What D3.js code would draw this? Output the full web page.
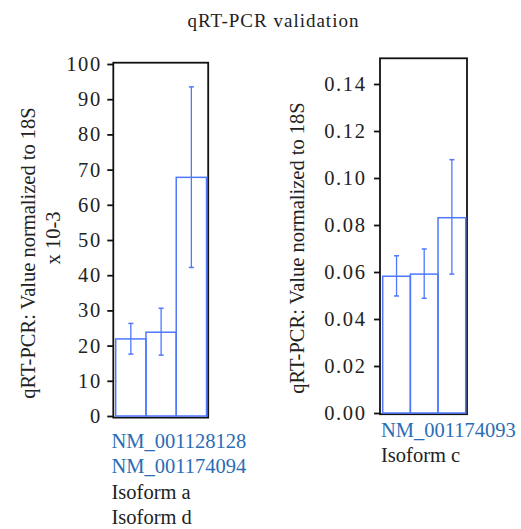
<!DOCTYPE html>
<html>
<head>
<meta charset="utf-8">
<script src="https://cdn.jsdelivr.net/npm/d3@7"></script>
<style>
  html, body { margin: 0; padding: 0; background: #fff; }
  svg { display: block; }
  text { font-family: "Liberation Serif", "Times New Roman", serif; }
</style>
</head>
<body>
<svg id="chart" width="521" height="529"></svg>
<script>
// ---- data ----
const title = "qRT-PCR validation";
const yTitleLine1 = "qRT-PCR: Value normalized to 18S";
const yTitleLine2 = "x 10-3";

const leftBars = ["bar1", "bar2", "bar3"];
const leftValues = [21.9, 23.8, 67.8];
const leftErrLow = [17.6, 17.3, 42.2];
const leftErrHigh = [26.3, 30.6, 93.5];
const leftTicks = [0, 10, 20, 30, 40, 50, 60, 70, 80, 90, 100];
const leftAccessions = ["NM_001128128", "NM_001174094"];
const leftIsoforms = ["Isoform a", "Isoform d"];

const rightBars = ["bar1", "bar2", "bar3"];
const rightValues = [0.0582, 0.0591, 0.0831];
const rightErrLow = [0.0498, 0.0488, 0.0591];
const rightErrHigh = [0.0669, 0.0698, 0.1078];
const rightTicks = [0, 0.02, 0.04, 0.06, 0.08, 0.10, 0.12, 0.14];
const rightAccessions = ["NM_001174093"];
const rightIsoforms = ["Isoform c"];

// ---- styles ----
const barColor = "#4f78ff";
const accColor = "#2a6db5";
const isoColor = "#222";
const fontSize = 20.5;

const svg = d3.select("#chart");

svg.append("text")
  .attr("x", 273.5).attr("y", 27)
  .attr("text-anchor", "middle")
  .attr("font-size", 19).attr("letter-spacing", 1)
  .attr("fill", "#222")
  .text(title);

function panel(opts) {
  const g = svg.append("g");
  const y = d3.scaleLinear().domain([0, opts.yMax]).range([opts.y0, opts.y1]);
  const x = d3.scaleBand().domain(opts.bars).range([opts.x0, opts.x1]).padding(0);

  // frame
  g.append("rect")
    .attr("x", opts.fx0).attr("y", opts.fy0)
    .attr("width", opts.fx1 - opts.fx0).attr("height", opts.fy1 - opts.fy0)
    .attr("fill", "none").attr("stroke", "#111").attr("stroke-width", 1.8);

  // axis
  const axis = d3.axisLeft(y).tickValues(opts.ticks).tickFormat(opts.fmt)
    .tickSize(6).tickPadding(opts.tickPad);
  const ag = g.append("g").attr("transform", `translate(${opts.fx0},0)`).call(axis);
  ag.select(".domain").remove();
  ag.selectAll(".tick line").attr("stroke", "#111").attr("stroke-width", 1.8);
  ag.selectAll(".tick text")
    .attr("font-family", "Liberation Serif, serif")
    .attr("font-size", fontSize).attr("letter-spacing", 1.6)
    .attr("fill", "#222");

  // bars
  g.selectAll(".bar").data(opts.values).enter().append("rect")
    .attr("x", (d, i) => x(opts.bars[i]))
    .attr("y", d => y(d))
    .attr("width", x.bandwidth())
    .attr("height", d => y(0) - y(d))
    .attr("fill", "none").attr("stroke", barColor).attr("stroke-width", 1.5);

  // error bars
  const cap = 2.5;
  opts.values.forEach((v, i) => {
    const cx = x(opts.bars[i]) + x.bandwidth() / 2;
    const lo = y(opts.errLow[i]), hi = y(opts.errHigh[i]);
    g.append("line").attr("x1", cx).attr("x2", cx).attr("y1", lo).attr("y2", hi)
      .attr("stroke", barColor).attr("stroke-width", 1.3);
    [lo, hi].forEach(yy => g.append("line")
      .attr("x1", cx - cap).attr("x2", cx + cap).attr("y1", yy).attr("y2", yy)
      .attr("stroke", barColor).attr("stroke-width", 1.5));
  });

  // y title
  opts.yTitles.forEach(t => {
    g.append("text")
      .attr("transform", `translate(${t.x},${t.cy}) rotate(-90)`)
      .attr("text-anchor", "middle")
      .attr("font-size", fontSize).attr("fill", "#222")
      .text(t.text);
  });

  // category labels
  const lines = opts.accessions.map(t => ({ t, c: accColor }))
    .concat(opts.isoforms.map(t => ({ t, c: isoColor })));
  lines.forEach((l, i) => {
    g.append("text")
      .attr("x", opts.labelX).attr("y", opts.labelY + i * 25.3)
      .attr("font-size", fontSize).attr("fill", l.c)
      .text(l.t);
  });
}

panel({
  bars: leftBars, values: leftValues, errLow: leftErrLow, errHigh: leftErrHigh,
  yMax: 100, y0: 416, y1: 64, x0: 115.7, x1: 206.5,
  fx0: 113.3, fx1: 208.2, fy0: 62.7, fy1: 417.6,
  ticks: leftTicks, fmt: d3.format("d"), tickPad: 5.5,
  yTitles: [
    { text: yTitleLine1, x: 35, cy: 253 },
    { text: yTitleLine2, x: 60, cy: 238 }
  ],
  accessions: leftAccessions, isoforms: leftIsoforms, labelX: 111.5, labelY: 448
});

panel({
  bars: rightBars, values: rightValues, errLow: rightErrLow, errHigh: rightErrHigh,
  yMax: 0.14, y0: 413, y1: 84, x0: 382.7, x1: 465.7,
  fx0: 380, fx1: 467, fy0: 58.3, fy1: 414.2,
  ticks: rightTicks, fmt: d3.format(".2f"), tickPad: 7.5,
  yTitles: [
    { text: yTitleLine1, x: 304, cy: 248 }
  ],
  accessions: rightAccessions, isoforms: rightIsoforms, labelX: 381, labelY: 437
});
</script>
</body>
</html>
